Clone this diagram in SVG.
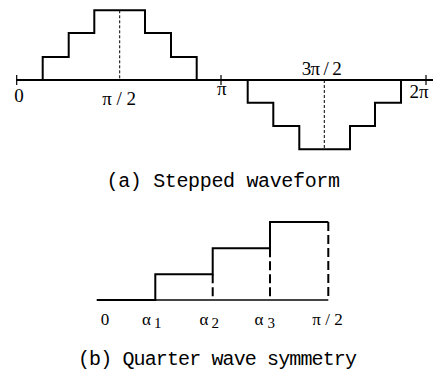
<svg xmlns="http://www.w3.org/2000/svg" width="433" height="373" viewBox="0 0 433 373">
<style>
.w{fill:none;stroke:#000;stroke-width:2;stroke-linejoin:miter}
.ax{fill:none;stroke:#000;stroke-width:2}
.tk{fill:none;stroke:#000;stroke-width:1.2}
.d1{fill:none;stroke:#000;stroke-width:1;stroke-dasharray:3 2}
.d2{fill:none;stroke:#000;stroke-width:2;stroke-dasharray:9 4}
.lb{font-family:"Liberation Serif","Times New Roman",serif;font-size:19px;fill:#000}
.lb2{font-family:"Liberation Serif","Times New Roman",serif;font-size:17px;fill:#000}
.cap{font-family:"Liberation Mono","Courier New",monospace;font-size:20px;fill:#000}
</style>
<rect width="433" height="373" fill="#fff"/>
<g id="stepped">
<line class="ax" x1="16.7" y1="80" x2="433" y2="80"/>
<path class="tk" d="M16.7,75V85M221,75V85M426,75V85"/>
<path class="w" d="M16.7,80H42.7V57H68.7V33H94.3V10.3H145V33H171V57H196.7V80"/>
<path class="w" d="M247.7,80V102.7H273.3V126H299.3V149.3H350V126H375V102.7H401V80"/>
<line class="d1" x1="119.7" y1="10.3" x2="119.7" y2="80"/>
<line class="d1" x1="324.3" y1="80" x2="324.3" y2="149.3"/>
<text class="lb" x="19" y="101.7" text-anchor="middle">0</text>
<text class="lb" x="119.2" y="105" text-anchor="middle">π / 2</text>
<text class="lb" x="221.7" y="95" text-anchor="middle">π</text>
<text class="lb" x="301.7" y="75" textLength="40" lengthAdjust="spacing">3π / 2</text>
<text class="lb" x="419" y="98" text-anchor="middle">2π</text>
<text class="cap" x="106.5" y="187" textLength="233.5" lengthAdjust="spacing">(a) Stepped waveform</text>
</g>
<g id="quarter">
<line x1="155" y1="300" x2="328.3" y2="300" stroke="#444" stroke-width="2"/>
<path class="w" d="M96.7,300H155.3V274.3H212.7V248.3H270V222H328.3"/>
<path class="d2" d="M212.7,274.3V300M270,248.3V300M328.3,222V300"/>
<text class="lb2" x="105" y="325" text-anchor="middle">0</text>
<text class="lb2" x="142" y="325">α<tspan dx="3" dy="3" font-size="15">1</tspan></text>
<text class="lb2" x="199.5" y="325">α<tspan dx="3" dy="3" font-size="15">2</tspan></text>
<text class="lb2" x="254.5" y="325">α<tspan dx="4" dy="3" font-size="15">3</tspan></text>
<text class="lb2" x="327.5" y="325" text-anchor="middle">π / 2</text>
<text class="cap" x="78" y="365" textLength="279" lengthAdjust="spacing">(b) Quarter wave symmetry</text>
</g>
</svg>
